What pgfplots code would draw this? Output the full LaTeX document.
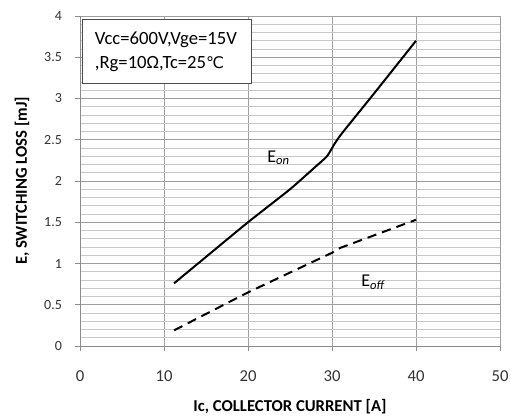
\documentclass[border=0pt]{standalone}
\usepackage{fontspec}
\setmainfont{Carlito}
\newfontfamily\dejavu{DejaVu Sans}
\usepackage{pgfplots}
\pgfplotsset{compat=1.18}
\begin{document}
\begin{tikzpicture}
\begin{axis}[
  scale only axis, width=315pt, height=247.5pt,
  xmin=0, xmax=50, ymin=0, ymax=4,
  xtick={0,10,...,50}, ytick={0,0.5,...,4},
  minor y tick num=4,
  ymajorgrids, yminorgrids, xmajorgrids,
  major grid style={draw=black!38, line width=0.6pt},
  minor grid style={draw=black!22, line width=0.6pt},
  axis lines=left,
  axis line style={-, draw=black!45, line width=0.6pt},
  tick align=outside, major tick length=4pt,
  minor tick length=0pt,
  tick style={draw=black!45, line width=0.6pt},
  /pgf/number format/assume math mode=true,
  tick label style={text=black!80},
  xticklabel style={font=\fontsize{12.5}{14}\selectfont, anchor=center, yshift=-18.5pt},
  yticklabel style={font=\fontsize{10.5}{12}\selectfont, xshift=-6pt},
  xlabel={\bfseries Ic, COLLECTOR CURRENT [A]},
  ylabel={\bfseries E, SWITCHING LOSS [mJ]},
  xlabel style={at={(axis description cs:0.5,-0.185)}, anchor=center, font=\fontsize{12.5}{14}\selectfont},
  ylabel style={at={(axis description cs:-0.138,0.5)}, anchor=center, font=\fontsize{12.5}{14}\selectfont},
  clip=false,
]
\addplot[black, line width=1.5pt, smooth, tension=0.35] coordinates {
  (11.2,0.76) (15,1.08) (20,1.5) (25,1.9) (28,2.17) (29.4,2.3) (30.3,2.45) (31.2,2.58) (35,3.06) (40,3.7)
};
\addplot[black, line width=1.5pt, dash pattern=on 7pt off 4.5pt] coordinates {
  (11.2,0.19) (20,0.65) (30,1.13) (31,1.19) (40,1.53)
};
\node[draw=black!70, fill=white, line width=0.8pt, anchor=north west,
      minimum width=127pt, minimum height=48pt, text width=108pt,
      inner xsep=9.5pt, align=left, font=\fontsize{14}{18}\selectfont]
  at (axis cs:0.2,3.96) {Vcc=600V,Vge=15V\\,Rg=10Ω,Tc=25{\dejavu\fontsize{12}{18}\selectfont ℃}};
\node[font=\fontsize{13.5}{14}\selectfont, anchor=base west, inner sep=0pt] at (axis cs:22.26,2.23) {E\textsubscript{\itshape on}};
\node[font=\fontsize{13.5}{14}\selectfont, anchor=base west, inner sep=0pt] at (axis cs:33.45,0.72) {E\textsubscript{\itshape off}};
\end{axis}
\pgfresetboundingbox
\path ([shift={(-60pt,-53.25pt)}]current axis.south west) rectangle ([shift={(8.25pt,12pt)}]current axis.north east);
\end{tikzpicture}
\end{document}
